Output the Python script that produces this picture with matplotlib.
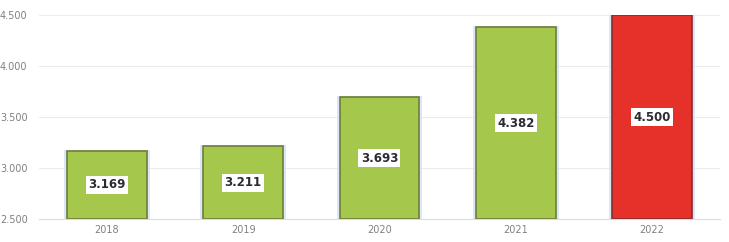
import matplotlib.pyplot as plt
import matplotlib.ticker as mticker

years = ["2018", "2019", "2020", "2021", "2022"]
values = [3169, 3211, 3693, 4382, 4500]
colors = ["#a5c74b", "#a5c74b", "#a5c74b", "#a5c74b", "#e6302a"]
edges = ["#6e7d3c", "#6e7d3c", "#6e7d3c", "#6e7d3c", "#8a2a2a"]
yticks = [2500, 3000, 3500, 4000, 4500]


def dotted(v):
    return f"{int(v):,}".replace(",", ".")


fig = plt.figure(figsize=(7.29, 2.42), dpi=100)
ax = fig.add_axes([0.053, 0.095, 0.935, 0.843])

x = list(range(len(years)))
base = 2500
heights = [v - base for v in values]

# soft blue glow behind the bars
ax.bar(x, [h + 12 for h in heights], width=0.63, bottom=base, color="#d3e2f2", alpha=0.8, zorder=2)
ax.bar(x, heights, width=0.585, bottom=base, color=colors, edgecolor=edges, linewidth=1.2, zorder=3)

for xi, v in zip(x, values):
    ax.text(xi, (base + v) / 2, dotted(v), ha="center", va="center", fontsize=8.5, fontweight="bold",
            color="#2b2b33", zorder=4,
            bbox=dict(boxstyle="square,pad=0.2", facecolor="white", edgecolor="none"))

ax.set_xlim(-0.5, 4.5)
ax.set_ylim(2500, 4500)
ax.set_yticks(yticks)
ax.yaxis.set_major_formatter(mticker.FuncFormatter(lambda v, p: dotted(v)))
ax.set_xticks(x)
ax.set_xticklabels(years)
ax.tick_params(axis="both", length=0, labelsize=7, labelcolor="#808080")
ax.tick_params(axis="y", pad=8)
ax.tick_params(axis="x", pad=4)
ax.grid(axis="y", color="#ececec", linewidth=0.8, zorder=0)
for s in ["top", "right", "left"]:
    ax.spines[s].set_visible(False)
ax.spines["bottom"].set_color("#dddddd")

fig.savefig("out.png", dpi=100)
